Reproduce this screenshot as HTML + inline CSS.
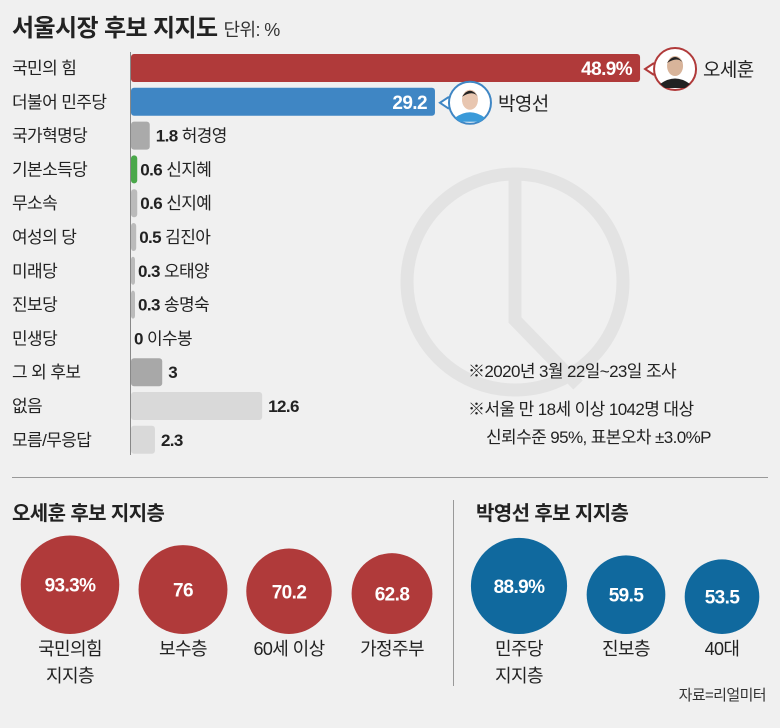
<!DOCTYPE html>
<html><head><meta charset="utf-8">
<style>
body{margin:0;background:#f0f0f0;}
svg{display:block;font-family:"Liberation Sans","Noto Sans CJK KR",sans-serif;letter-spacing:-0.6px;}
</style></head>
<body>
<svg id="c" width="780" height="728" viewBox="0 0 780 728" xmlns="http://www.w3.org/2000/svg">
<rect width="780" height="728" fill="#f0f0f0"/>
<g fill="none" stroke="#e3e3e3" stroke-width="13">
<circle cx="515" cy="282" r="108"/>
<path d="M515 176 L515 320 L578 385"/>
</g>
<text x="12" y="36" font-size="24" font-weight="bold" fill="#222">서울시장 후보 지지도 <tspan font-size="18" font-weight="normal" fill="#333">단위: %</tspan></text>
<line x1="130.5" y1="52" x2="130.5" y2="455" stroke="#888" stroke-width="1"/>
<g id="bars"></g>
<text x="468" y="377" font-size="17" fill="#222">※2020년 3월 22일~23일 조사</text>
<text x="468" y="415" font-size="17" fill="#222">※서울 만 18세 이상 1042명 대상</text>
<text x="486" y="443" font-size="17" fill="#222">신뢰수준 95%, 표본오차 ±3.0%P</text>
<line x1="12" y1="477.5" x2="768" y2="477.5" stroke="#999"/>
<line x1="453.5" y1="500" x2="453.5" y2="686" stroke="#999"/>
<text x="12" y="520" font-size="20" font-weight="bold" fill="#222">오세훈 후보 지지층</text>
<text x="476" y="520" font-size="20" font-weight="bold" fill="#222">박영선 후보 지지층</text>
<g id="bubbles"></g>
<text x="766" y="700" font-size="15" fill="#333" text-anchor="end">자료=리얼미터</text>
</svg>
<script>
const categories=["국민의 힘","더불어 민주당","국가혁명당","기본소득당","무소속","여성의 당","미래당","진보당","민생당","그 외 후보","없음","모름/무응답"];
const values=[48.9,29.2,1.8,0.6,0.6,0.5,0.3,0.3,0,3,12.6,2.3];
const candidates=["","","허경영","신지혜","신지예","김진아","오태양","송명숙","이수봉","","",""];
const colors=["#b03a3a","#3f86c4","#aaaaaa","#4aa84a","#bbbbbb","#bbbbbb","#bbbbbb","#bbbbbb","#bbbbbb","#a8a8a8","#d9d9d9","#d9d9d9"];
const ohGroups=["국민의힘|지지층","보수층","60세 이상","가정주부"];
const ohValues=[93.3,76,70.2,62.8];
const ohLabels=["93.3%","76","70.2","62.8"];
const parkGroups=["민주당|지지층","진보층","40대"];
const parkValues=[88.9,59.5,53.5];
const parkLabels=["88.9%","59.5","53.5"];

const NS="http://www.w3.org/2000/svg";
function mk(t,a,p){const e=document.createElementNS(NS,t);for(const k in a)e.setAttribute(k,a[k]);p.appendChild(e);return e;}
const x0=131,scale=10.41;
const xs=v=>v*scale;
const yc=i=>68+i*33.8;
const bars=document.getElementById('bars');
values.forEach((v,i)=>{
  const y=yc(i);
  const lab=mk('text',{x:12,y:y+6,'font-size':17,fill:'#222'},bars);
  lab.textContent=categories[i];
  
  
  let w=xs(v);
  if(v>0&&w<4)w=4;
  if(v>0){
    const r=mk('rect',{x:x0,y:y-14,width:w,height:28,rx:3,fill:colors[i]},bars);
    
    
  }
  const t=mk('text',{'font-size':17,fill:'#222'},bars);
  
  
  if(i<2){
    t.setAttribute('x',x0+w-8);t.setAttribute('y',y+7);t.setAttribute('text-anchor','end');
    t.setAttribute('fill','#fff');t.setAttribute('font-weight','bold');t.setAttribute('font-size',19);
    t.textContent=i==0?v+'%':v;
  }else{
    t.setAttribute('x',x0+w+(v>=1?6:3));t.setAttribute('y',y+6);
    t.innerHTML='<tspan font-weight="bold">'+v+'</tspan>'+(candidates[i]?' '+candidates[i]:'');
  }
});
[[0,"#b03a3a","오세훈"],[1,"#3f86c4","박영선"]].forEach(([i,c,n])=>{
  const y=yc(i)+1,cx=x0+xs(values[i])+35;
  const g=mk('g',{},bars);
  
  
  mk('path',{d:`M${cx-21} ${y-6} L${cx-30} ${y} L${cx-21} ${y+6}`,fill:'#fff',stroke:c,'stroke-width':2},g);
  mk('circle',{cx:cx,cy:y,r:21,fill:'#fff',stroke:c,'stroke-width':2},g);
  mk('ellipse',{cx:cx,cy:y-3,rx:8,ry:10,fill:i?'#e8c6b0':'#d8b49a'},g);
  mk('path',{d:`M${cx-8} ${y-6} Q${cx} ${y-18} ${cx+8} ${y-6} Q${cx+3} ${y-13} ${cx-8} ${y-6}`,fill:'#222'},g);
  mk('path',{d:`M${cx-15} ${y+15} Q${cx} ${y+4} ${cx+15} ${y+15} L${cx+10} ${y+19} L${cx-10} ${y+19}Z`,fill:i?'#3a9ad9':'#222'},g);
  const nt=mk('text',{x:cx+28,y:y+7,'font-size':19,fill:'#222'},g);
  nt.textContent=n;
  
  
});
const bub=document.getElementById('bubbles');
const rs=v=>5.1*Math.sqrt(v);
function drawBubbles(groups,vals,labs,xsPos,color){
  vals.forEach((v,i)=>{
    const r=rs(v),cx=xsPos[i],cy=634-r;
    const c=mk('circle',{cx:cx,cy:cy,r:r,fill:color},bub);
    
    
    const t=mk('text',{x:cx,y:cy+7,'text-anchor':'middle','font-size':19,'font-weight':'bold',fill:'#fff'},bub);
    t.textContent=labs[i];
    
    
    groups[i].split('|').forEach((s,j)=>{
      const l=mk('text',{x:cx,y:655+j*27,'text-anchor':'middle','font-size':18,fill:'#222'},bub);
      l.textContent=s;
      
      
    });
  });
}
drawBubbles(ohGroups,ohValues,ohLabels,[70,183,289,392],"#b03a3a");
drawBubbles(parkGroups,parkValues,parkLabels,[519,626,722],"#10699e");
</script>
</body></html>
